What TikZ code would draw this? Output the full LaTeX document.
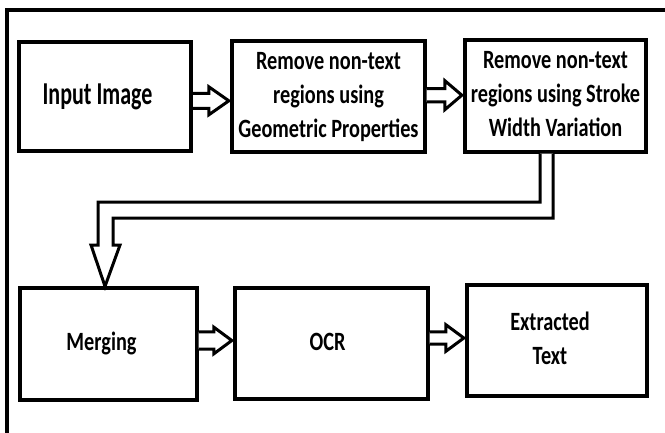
\documentclass[tikz,border=0pt]{standalone}
\usepackage{fontspec}
\setmainfont{Carlito}
\usepackage{graphicx}
\usetikzlibrary{calc}
\newcommand\stx[1]{\scalebox{1}[1.3]{\fontsize{20.3}{26}\bfseries\selectfont\begin{tabular}{@{}c@{}}#1\end{tabular}}}
\tikzset{
  blk/.style={draw, line width=3.3pt, rectangle, inner sep=0pt},
  barrow/.style={draw, line width=3pt, fill=white, line join=miter},
  frm/.style={draw, line width=4.3pt},
}
% from, to, y centre, shaft half height, head half height, head length
\newcommand\harrow[6]{%
  \draw[barrow] ($(#1.east |- 0,#3)+(0,{-#4})$)
    -- ($(#2.west |- 0,#3)+({-#6-1.5},{-#4})$)
    -- ($(#2.west |- 0,#3)+({-#6-1.5},{-#5})$)
    -- ($(#2.west |- 0,#3)+(-1.5,0)$)
    -- ($(#2.west |- 0,#3)+({-#6-1.5},{#5})$)
    -- ($(#2.west |- 0,#3)+({-#6-1.5},{#4})$)
    -- ($(#1.east |- 0,#3)+(0,{#4})$);}
\begin{document}
\begin{tikzpicture}[x=1pt,y=-1pt]
\useasboundingbox (0,0) rectangle (665,432);
\clip (0,0) rectangle (665,432);
\path[frm] (7,10) rectangle (720,480);

\node[blk, line width=4pt, minimum width=172pt, minimum height=109pt] (in) at (105,96.5)
  {\scalebox{1}[1.45]{\fontsize{22}{27}\bfseries\selectfont Input Image}\hspace*{15pt}};
\node[blk, minimum width=193pt, minimum height=111pt] (geo) at (328.5,96.5)
  {\stx{Remove non-text\\regions using\\Geometric Properties}};
\node[blk, minimum width=181pt, minimum height=112pt] (swv) at (555.5,96)
  {\stx{Remove non-text\\regions using Stroke\\Width Variation}};
\node[blk, minimum width=177pt, minimum height=112pt] (mrg) at (108.5,344)
  {\stx{Merging}\hspace*{14pt}};
\node[blk, minimum width=193pt, minimum height=111pt] (ocr) at (331.5,343.5)
  {\stx{OCR}\hspace*{8pt}};
\node[blk, minimum width=180pt, minimum height=111pt] (ext) at (557,340.5)
  {\stx{Extracted\\Text}\hspace*{14pt}};

\harrow{in}{geo}{100.8}{7.5}{14}{20}
\harrow{geo}{swv}{95.2}{6.7}{14.5}{17}
\harrow{mrg}{ocr}{340.5}{8.6}{13.3}{18}
\harrow{ocr}{ext}{338}{6.2}{13.3}{18}

\draw[barrow] (540,0 |- swv.south) -- (540,202) -- (98,202) -- (98,245)
  -- (91,245) -- (105,0 |- mrg.north) -- (120,245) -- (113,245)
  -- (113,218) -- (553,218) -- (553,0 |- swv.south);
\end{tikzpicture}
\end{document}
